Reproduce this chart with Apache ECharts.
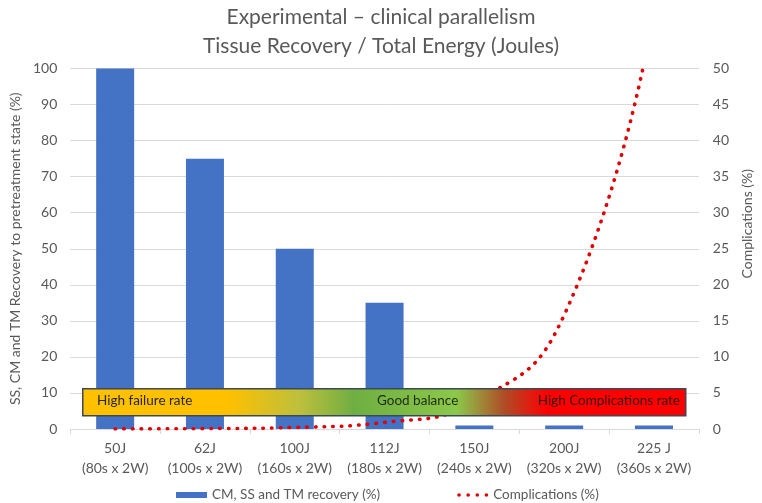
<!DOCTYPE html>
<html>
<head>
<meta charset="utf-8">
<script src="https://cdn.jsdelivr.net/npm/echarts@6/dist/echarts.min.js"></script>
<style>html,body{margin:0;padding:0;background:#fff;}#c{width:762px;height:503px;}</style>
</head>
<body>
<div id="c"></div>
<script>
var categories = ['50J\n(80s x 2W)', '62J\n(100s x 2W)', '100J\n(160s x 2W)', '112J\n(180s x 2W)', '150J\n(240s x 2W)', '200J\n(320s x 2W)', '225 J\n(360s x 2W)'];
var recovery = [100, 75, 50, 35, 1, 1, 1];
var complications = [0.01, 0.05, 0.22, 0.92, 3.8, 15.8, 58];
var leftTicks = {min: 0, max: 100, interval: 10};
var rightTicks = {min: 0, max: 50, interval: 5};
var seriesNames = ['CM, SS and TM recovery (%)', 'Complications (%)'];
var bandLabels = ['High failure rate', 'Good balance', 'High Complications rate'];

var FONT = 'Lato';
var GRAY = '#595959';
var chart = echarts.init(document.getElementById('c'), null, {renderer: 'canvas'});

var dotIcon = 'path://M0,1.75a1.75,1.75 0 1,0 3.5,0a1.75,1.75 0 1,0 -3.5,0' +
  'M8.75,1.75a1.75,1.75 0 1,0 3.5,0a1.75,1.75 0 1,0 -3.5,0' +
  'M17.5,1.75a1.75,1.75 0 1,0 3.5,0a1.75,1.75 0 1,0 -3.5,0' +
  'M26.25,1.75a1.75,1.75 0 1,0 3.5,0a1.75,1.75 0 1,0 -3.5,0';

var option = {
  animation: false,
  backgroundColor: '#fff',
  title: {
    text: 'Experimental \u2013 clinical parallelism\nTissue Recovery / Total Energy (Joules)',
    left: 'center',
    top: -2,
    textStyle: {fontFamily: FONT, fontSize: 21, fontWeight: 'normal', color: GRAY, lineHeight: 29}
  },
  legend: {
    left: 171,
    top: 483,
    itemWidth: 31,
    itemHeight: 6,
    itemGap: 77,
    textStyle: {fontFamily: FONT, fontSize: 13.5, color: GRAY},
    data: [
      {name: seriesNames[0], icon: 'rect'},
      {name: seriesNames[1], icon: dotIcon, itemStyle: {color: '#e00000'}}
    ]
  },
  grid: {left: 56, right: 51, top: 68.5, bottom: 74, containLabel: false},
  xAxis: {
    type: 'category',
    data: categories,
    axisLine: {lineStyle: {color: '#d9d9d9'}},
    axisTick: {show: true, alignWithLabel: false, length: 5, lineStyle: {color: '#d9d9d9'}},
    axisLabel: {fontFamily: FONT, fontSize: 14, color: GRAY, lineHeight: 20, margin: 9, interval: 0}
  },
  yAxis: [
    {
      type: 'value', min: leftTicks.min, max: leftTicks.max, interval: leftTicks.interval,
      name: 'SS, CM and TM Recovery to pretreatment state (%)',
      nameLocation: 'middle', nameGap: 47, nameRotate: 90,
      nameTextStyle: {fontFamily: FONT, fontSize: 14, color: GRAY},
      axisLine: {show: false}, axisTick: {show: false},
      axisLabel: {fontFamily: FONT, fontSize: 14, color: GRAY, margin: 13},
      splitLine: {lineStyle: {color: '#d9d9d9'}}
    },
    {
      type: 'value', min: rightTicks.min, max: rightTicks.max, interval: rightTicks.interval,
      name: 'Complications (%)',
      nameLocation: 'middle', nameGap: 30, nameRotate: 90,
      nameTextStyle: {fontFamily: FONT, fontSize: 14, color: GRAY, padding: [0, 0, 0, 50]},
      axisLine: {show: false}, axisTick: {show: false},
      axisLabel: {fontFamily: FONT, fontSize: 14, color: GRAY, margin: 14},
      splitLine: {show: false}
    }
  ],
  series: [
    {
      name: seriesNames[0], type: 'bar', data: recovery, yAxisIndex: 0,
      barWidth: 38, itemStyle: {color: '#4472C4'}, z: 2
    },
    {
      name: seriesNames[1], type: 'line', data: complications, yAxisIndex: 1,
      smooth: 0.5, symbol: 'none', clip: true,
      lineStyle: {color: '#e00000', width: 3.6, type: [0.5, 8.2], cap: 'round'},
      itemStyle: {color: '#e00000'}, z: 3
    }
  ],
  graphic: [
    {
      type: 'rect', left: 82, top: 388, z: 10,
      shape: {width: 603, height: 27},
      style: {
        fill: new echarts.graphic.LinearGradient(0, 0, 1, 0, [
          {offset: 0, color: '#FFC000'},
          {offset: 0.24, color: '#FFC000'},
          {offset: 0.36, color: '#bdbf3c'},
          {offset: 0.45, color: '#6fae42'},
          {offset: 0.62, color: '#8bc84a'},
          {offset: 0.70, color: '#b04a26'},
          {offset: 0.77, color: '#ff0000'},
          {offset: 1, color: '#ff0000'}
        ]),
        stroke: '#3b4856', lineWidth: 1.5
      }
    },
    {type: 'text', left: 97, top: 394, z: 11, style: {text: bandLabels[0], font: '13.5px Lato', fill: '#262626'}},
    {type: 'text', left: 377, top: 394, z: 11, style: {text: bandLabels[1], font: '13.5px Lato', fill: '#1f2a14'}},
    {type: 'text', right: 82, top: 394, z: 11, style: {text: bandLabels[2], font: '13.5px Lato', fill: '#3a0000'}}
  ]
};
chart.setOption(option);
</script>
</body>
</html>
